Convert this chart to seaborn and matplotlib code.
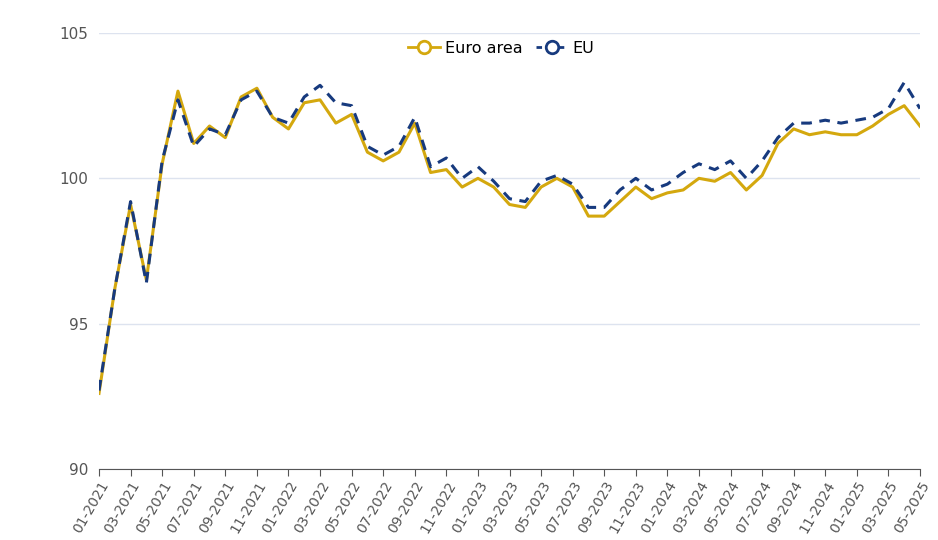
import matplotlib
matplotlib.use("Agg")
import matplotlib.pyplot as plt
import seaborn as sns
import pandas as pd
from matplotlib.lines import Line2D

months = [f"{m:02d}-{y}" for y in range(2021, 2026) for m in range(1, 13)][:53]
euro_area = [92.6, 96.2, 99.1, 96.5, 100.5, 103.0, 101.2, 101.8, 101.4, 102.8, 103.1, 102.1,
             101.7, 102.6, 102.7, 101.9, 102.2, 100.9, 100.6, 100.9, 101.9, 100.2, 100.3, 99.7,
             100.0, 99.7, 99.1, 99.0, 99.7, 100.0, 99.7, 98.7, 98.7, 99.2, 99.7, 99.3,
             99.5, 99.6, 100.0, 99.9, 100.2, 99.6, 100.1, 101.2, 101.7, 101.5, 101.6, 101.5,
             101.5, 101.8, 102.2, 102.5, 101.8]
eu = [92.7, 96.2, 99.2, 96.4, 100.6, 102.7, 101.1, 101.7, 101.5, 102.7, 103.0, 102.1,
      101.9, 102.8, 103.2, 102.6, 102.5, 101.1, 100.8, 101.1, 102.1, 100.4, 100.7, 100.0,
      100.4, 99.9, 99.3, 99.2, 99.9, 100.1, 99.8, 99.0, 99.0, 99.6, 100.0, 99.6,
      99.8, 100.2, 100.5, 100.3, 100.6, 100.0, 100.6, 101.4, 101.9, 101.9, 102.0, 101.9,
      102.0, 102.1, 102.4, 103.3, 102.4]
yticks = [90, 95, 100, 105]

gold = "#d4a80e"
navy = "#173a7e"
x = list(range(len(months)))
df = pd.DataFrame({"x": x, "Euro area": euro_area, "EU": eu})

fig = plt.figure(figsize=(9.38, 5.40), dpi=100)
ax = fig.add_axes([99/938, 1-469/540, 821/938, 436/540])
sns.lineplot(data=df, x="x", y="Euro area", ax=ax, color=gold, lw=2.2)
sns.lineplot(data=df, x="x", y="EU", ax=ax, color=navy, lw=2.2, linestyle=(0, (3.5, 2.5)))
ax.set_xlim(0, len(months)-1)
ax.set_ylim(90, 105)
ax.set_yticks(yticks)
ax.set_yticklabels([str(v) for v in yticks], color="#555555", fontsize=11)
ax.set_xticks(x[::2])
ax.set_xticklabels(months[::2], rotation=60, ha="right", rotation_mode="anchor", color="#555555", fontsize=10)
ax.set_xlabel(""); ax.set_ylabel("")
ax.grid(axis="y", color="#dde3ef", lw=1)
ax.set_axisbelow(True)
for s in ["top", "right", "left"]:
    ax.spines[s].set_visible(False)
ax.spines["bottom"].set_color("#555555")
ax.tick_params(axis="y", length=0, pad=8)
ax.tick_params(axis="x", length=5, color="#555555", pad=2)
handles = [Line2D([], [], color=gold, lw=2, marker="o", mfc="white", mec=gold, ms=9, mew=2),
           Line2D([], [], color=navy, lw=2, ls=(0, (2, 2)), marker="o", mfc="white", mec=navy, ms=9, mew=2)]
ax.legend(handles, ["Euro area", "EU"], loc="upper center", bbox_to_anchor=(0.49, 1.015), ncol=2,
          frameon=False, fontsize=11.5, handlelength=2, columnspacing=0.8, handletextpad=0.3)
fig.savefig("out.png", dpi=100)
